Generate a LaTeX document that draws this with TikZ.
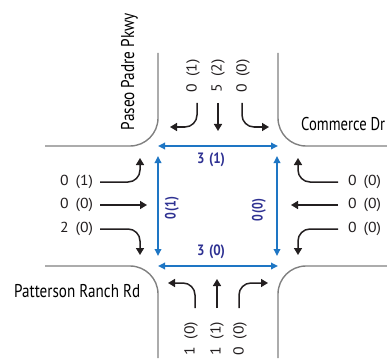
\documentclass[tikz,border=0pt]{standalone}
\usepackage{fontspec}
\usepackage{graphicx}
\setmainfont{PT Sans}
\usetikzlibrary{arrows.meta}
\definecolor{roadgray}{RGB}{128,128,128}
\definecolor{flowblue}{RGB}{30,118,196}
\definecolor{labelblue}{RGB}{46,49,146}
\definecolor{arrowblack}{RGB}{35,31,32}
\tikzset{
  road/.style={draw=roadgray, line width=1.4pt, rounded corners=28pt},
  mv/.style={draw=arrowblack, line width=1.5pt, rounded corners=12pt,
    -{Triangle[length=7pt,width=8pt]}},
  flow/.style={draw=flowblue, line width=1.7pt,
    {Triangle[length=7pt,width=6.5pt]}-{Triangle[length=7pt,width=6.5pt]}},
  cnt/.style={inner sep=0pt, font=\fontsize{14.5}{15}\selectfont, text=arrowblack},
  vcnt/.style={cnt, rotate=90},
  blab/.style={inner sep=0pt, font=\fontsize{15}{15}\selectfont\bfseries, text=labelblue},
  street/.style={inner sep=0pt, font=\fontsize{18.5}{19}\selectfont, text=black},
}
\newcommand{\cn}[2]{\resizebox{33pt}{\height}{#1\hspace{0.45em}(#2)}}
\newcommand{\bh}[2]{\resizebox{28pt}{\height}{#1\hspace{0.35em}(#2)}}
\newcommand{\bv}[2]{\resizebox{23pt}{\height}{#1\hspace{0.15em}(#2)}}
\newcommand{\fitname}[2]{\resizebox{#1}{\height}{#2}}
\begin{document}
\begin{tikzpicture}[x=1pt,y=-1pt]
\useasboundingbox (0,0) rectangle (387,358);
% road edges
\coordinate (tlA) at (45,146);  \coordinate (tlC) at (158,146); \coordinate (tlB) at (158,53);
\coordinate (trA) at (278,53);  \coordinate (trC) at (278,146); \coordinate (trB) at (387,146);
\coordinate (blA) at (45,266);  \coordinate (blC) at (158,266); \coordinate (blB) at (158,358);
\coordinate (brA) at (387,266); \coordinate (brC) at (278,266); \coordinate (brB) at (278,358);
\draw[road] (tlA) -- (tlC) -- (tlB);
\draw[road] (trA) -- (trC) -- (trB);
\draw[road] (blA) -- (blC) -- (blB);
\draw[road] (brA) -- (brC) -- (brB);
% blue flows
\coordinate (q1) at (158,146); \coordinate (q2) at (278,146);
\coordinate (q3) at (158,266); \coordinate (q4) at (278,266);
\coordinate (v1) at (158,156); \coordinate (v2) at (158,256);
\coordinate (v3) at (277,156); \coordinate (v4) at (277,256);
\draw[flow] (q1) -- (q2);
\draw[flow] (q3) -- (q4);
\draw[flow] (v1) -- (v2);
\draw[flow] (v3) -- (v4);
\node[blab] (bt) at (211,160) {\bh{3}{1}};
\node[blab] (bb) at (211,252) {\bh{3}{0}};
\node[blab, rotate=90] (bl) at (172,208) {\bv{0}{1}};
\node[blab, rotate=90] (br) at (259,210) {\bv{0}{0}};
% north approach
\node[vcnt] (n1) at (193,76) {\cn{0}{1}};
\node[vcnt] (n2) at (218,76) {\cn{5}{2}};
\node[vcnt] (n3) at (243,76) {\cn{0}{0}};
\coordinate (n1s) at (197,103); \coordinate (n1e) at (170,127);
\coordinate (n2s) at (218,103); \coordinate (n2e) at (218,131);
\coordinate (n3s) at (242,103); \coordinate (n3e) at (269,127);
\draw[mv] (n1s) |- (n1e);
\draw[mv] (n2s) -- (n2e);
\draw[mv] (n3s) |- (n3e);
% west approach
\node[cnt] (w1) at (76.5,182) {\cn{0}{1}};
\node[cnt] (w2) at (76.5,205) {\cn{0}{0}};
\node[cnt] (w3) at (76.5,229) {\cn{2}{0}};
\coordinate (w1s) at (100,182); \coordinate (w1e) at (140,158);
\coordinate (w2s) at (100,205); \coordinate (w2e) at (147,205);
\coordinate (w3s) at (100,229); \coordinate (w3e) at (140,255);
\draw[mv] (w1s) -| (w1e);
\draw[mv] (w2s) -- (w2e);
\draw[mv] (w3s) -| (w3e);
% east approach
\node[cnt] (e1) at (364.5,182) {\cn{0}{0}};
\node[cnt] (e2) at (364.5,205) {\cn{0}{0}};
\node[cnt] (e3) at (364.5,229) {\cn{0}{0}};
\coordinate (e1s) at (338,182); \coordinate (e1e) at (298,158);
\coordinate (e2s) at (338,205); \coordinate (e2e) at (291,205);
\coordinate (e3s) at (338,229); \coordinate (e3e) at (298,255);
\draw[mv] (e1s) -| (e1e);
\draw[mv] (e2s) -- (e2e);
\draw[mv] (e3s) -| (e3e);
% south approach
\node[vcnt] (s1) at (191,338.5) {\cn{1}{0}};
\node[vcnt] (s2) at (217,338.5) {\cn{1}{1}};
\node[vcnt] (s3) at (240,338.5) {\cn{0}{0}};
\coordinate (s1s) at (195,308); \coordinate (s1e) at (168,283);
\coordinate (s2s) at (217,308); \coordinate (s2e) at (217,279);
\coordinate (s3s) at (239,308); \coordinate (s3e) at (268,283);
\draw[mv] (s1s) |- (s1e);
\draw[mv] (s2s) -- (s2e);
\draw[mv] (s3s) |- (s3e);
% street names
\node[street, rotate=90, anchor=base] (pp) at (134,71.5) {\fitname{117pt}{Paseo Padre Pkwy}};
\node[street, anchor=base west] (cd) at (301,131) {\fitname{84pt}{Commerce Dr}};
\node[street, anchor=base west] (pr) at (14,297) {\fitname{126pt}{Patterson Ranch Rd}};
\end{tikzpicture}
\end{document}
